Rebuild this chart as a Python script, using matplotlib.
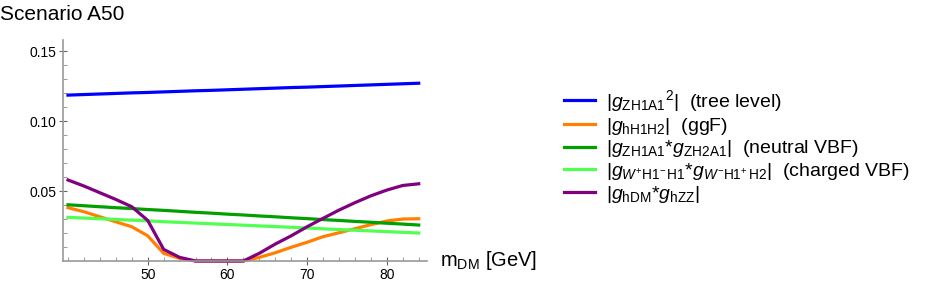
import numpy as np
import matplotlib.pyplot as plt

plt.rcParams['font.family'] = ['Liberation Sans', 'DejaVu Sans']
plt.rcParams['mathtext.fontset'] = 'custom'
plt.rcParams['mathtext.rm'] = 'Liberation Sans'
plt.rcParams['mathtext.it'] = 'Liberation Sans:italic'

# dark matter mass [GeV]
m_dm = [40, 42, 44, 46, 48, 50, 52, 54, 56, 58, 60, 62,
        64, 66, 68, 70, 72, 74, 76, 78, 80, 82, 84]

# |g_ZH1A1^2| (tree level)
tree = [0.1186, 0.1190, 0.1194, 0.1198, 0.1202, 0.1205, 0.1209, 0.1213,
        0.1217, 0.1220, 0.1224, 0.1228, 0.1232, 0.1236, 0.1240, 0.1243,
        0.1247, 0.1251, 0.1255, 0.1259, 0.1263, 0.1267, 0.1271]
# |g_hH1H2| (ggF)
ggf = [0.0381, 0.0352, 0.0316, 0.0280, 0.0245, 0.0180, 0.0055, 0.0019,
       0.0, 0.0, 0.0, 0.0, 0.0026, 0.0059, 0.0098, 0.0134,
       0.0174, 0.0202, 0.0231, 0.0260, 0.0286, 0.0300, 0.0302]
# neutral VBF
nvbf = [0.0402, 0.0395, 0.0388, 0.0381, 0.0375, 0.0368, 0.0362, 0.0355,
        0.0348, 0.0342, 0.0335, 0.0329, 0.0322, 0.0316, 0.0309, 0.0303,
        0.0296, 0.0290, 0.0283, 0.0277, 0.0270, 0.0264, 0.0257]
# charged VBF
cvbf = [0.0312, 0.0307, 0.0302, 0.0297, 0.0292, 0.0287, 0.0281, 0.0276,
        0.0271, 0.0266, 0.0261, 0.0256, 0.0251, 0.0246, 0.0241, 0.0236,
        0.0230, 0.0225, 0.0220, 0.0215, 0.0210, 0.0205, 0.0200]
# |g_hDM * g_hZZ|
hdm = [0.0579, 0.0536, 0.0488, 0.0440, 0.0388, 0.0290, 0.0083, 0.0026,
       0.0, 0.0, 0.0, 0.0, 0.0055, 0.0121, 0.0180, 0.0245,
       0.0305, 0.0364, 0.0417, 0.0466, 0.0507, 0.0540, 0.0552]

labels = [
    r'$|g_{\mathrm{ZH1A1}}{}^{2}|$  (tree level)',
    r'$|g_{\mathrm{hH1H2}}|$  (ggF)',
    r'$|g_{\mathrm{ZH1A1}}{*}g_{\mathrm{ZH2A1}}|$  (neutral VBF)',
    r'$|g_{W^{+}\mathrm{H1}^{-}\,\mathrm{H1}}{*}g_{W^{-}\mathrm{H1}^{+}\,\mathrm{H2}}|$  (charged VBF)',
    r'$|g_{\mathrm{hDM}}{*}g_{\mathrm{hZZ}}|$',
]
colors = ['#0000ff', '#ff8000', '#00a000', '#50ff50', '#800080']
series = [tree, ggf, nvbf, cvbf, hdm]

fig = plt.figure(figsize=(9.32, 2.84), dpi=100)
ax = fig.add_axes([63/932, 23/284, 364/932, 221/284])

for y, c, lab in zip(series, colors, labels):
    ax.plot(m_dm, y, color=c, lw=2.3, label=lab, clip_on=False,
            solid_joinstyle='round')

ax.set_xlim(39.37, 85.04)
ax.set_ylim(0, 0.158)
ax.set_xticks([50, 60, 70, 80])
ax.set_xticks(np.arange(40, 86, 2), minor=True)
ax.set_yticks([0.05, 0.10, 0.15])
ax.set_yticks(np.arange(0.01, 0.155, 0.01), minor=True)
ax.set_yticklabels(['0.05', '0.10', '0.15'])

for s in ['top', 'right']:
    ax.spines[s].set_visible(False)
for s in ['left', 'bottom']:
    ax.spines[s].set_color('#999999')
    ax.spines[s].set_linewidth(1.2)

ax.tick_params(axis='x', which='major', direction='inout', length=6,
               width=0.8, color='#666666', labelsize=10, pad=2)
ax.tick_params(axis='x', which='minor', direction='in', length=3,
               width=0.6, color='#888888')
ax.tick_params(axis='y', which='major', direction='inout', length=6,
               width=0.8, color='#666666', labelsize=10, pad=2)
ax.tick_params(axis='y', which='minor', direction='in', length=3,
               width=0.6, color='#888888')

ax.text(1.035, 0.0, r'$\mathrm{m_{DM}}$ [GeV]', transform=ax.transAxes,
        fontsize=14.5, va='center', ha='left')
fig.text(0.0, 1 - 15/284, 'Scenario A50', fontsize=15, va='center', ha='left')

fig.legend(loc='upper left', bbox_to_anchor=(564/932, 1 - 88/284),
           frameon=False, fontsize=14, handlelength=1.6, handletextpad=0.55,
           labelspacing=0.09, borderpad=0, borderaxespad=0)

fig.savefig('out.png', dpi=100)
